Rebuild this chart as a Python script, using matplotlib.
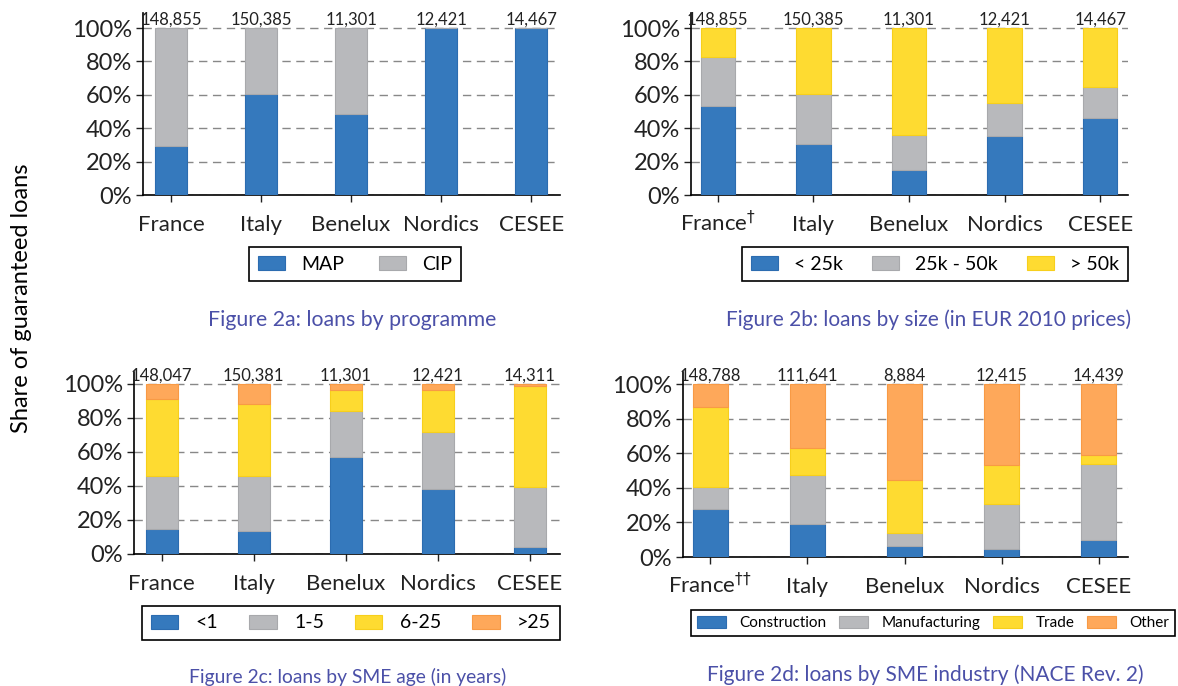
import matplotlib
matplotlib.use("Agg")
import matplotlib.pyplot as plt
import numpy as np

plt.rcParams['font.family'] = ['Lato', 'DejaVu Sans']

regions = ['France', 'Italy', 'Benelux', 'Nordics', 'CESEE']

# 2a: programme
prog_labels = ['MAP', 'CIP']
prog_map = [29.3, 60.4, 48.6, 100.0, 100.0]
prog_cip = [70.7, 39.6, 51.4, 0.0, 0.0]
prog_totals = ['148,855', '150,385', '11,301', '12,421', '14,467']

# 2b: size
size_labels = ['< 25k', '25k - 50k', '> 50k']
size_lt25 = [53.2, 30.3, 14.9, 35.3, 46.0]
size_25_50 = [29.3, 30.1, 20.8, 19.5, 18.5]
size_gt50 = [17.5, 39.6, 64.3, 45.2, 35.5]
size_totals = ['148,855', '150,385', '11,301', '12,421', '14,467']

# 2c: age
age_labels = ['<1', '1-5', '6-25', '>25']
age_lt1 = [14.9, 13.7, 57.1, 38.0, 4.3]
age_1_5 = [31.2, 32.4, 27.2, 34.0, 34.9]
age_6_25 = [44.9, 42.1, 12.0, 24.3, 59.4]
age_gt25 = [9.0, 11.8, 3.7, 3.7, 1.4]
age_totals = ['148,047', '150,381', '11,301', '12,421', '14,311']

# 2d: industry
ind_labels = ['Construction', 'Manufacturing', 'Trade', 'Other']
ind_constr = [27.5, 19.1, 6.2, 4.4, 10.1]
ind_manuf = [12.9, 28.3, 7.7, 26.2, 43.9]
ind_trade = [46.3, 15.8, 30.8, 22.6, 5.0]
ind_other = [13.3, 36.8, 55.3, 46.8, 41.0]
ind_totals = ['148,788', '111,641', '8,884', '12,415', '14,439']

blue, grey, yellow, orange = '#3579bd', '#b8b9bc', '#fedb31', '#fea85a'
edges = {blue: '#2c6cb0', grey: '#a8a9ac', yellow: '#f7cf1c', orange: '#f89a45'}
cap_color = '#4b50a8'

fig = plt.figure(figsize=(11.78, 6.86), dpi=100)


def panel(rect, series, colors, labels, totals, xlims, ytop, width,
          xticklabels, leg_pos, leg_size, leg_kw):
    ax = fig.add_axes(rect)
    x = np.arange(len(regions))
    bottom = np.zeros(len(regions))
    handles = []
    for vals, c, lab in zip(series, colors, labels):
        v = np.array(vals) / 100.0
        h = ax.bar(x, v, width, bottom=bottom, color=c, edgecolor=edges[c],
                   linewidth=0.8, label=lab, zorder=3)
        handles.append(h)
        bottom += v
    for xi, t in zip(x, totals):
        ax.text(xi, 1.0, t, ha='center', va='bottom', fontsize=12,
                color='#222222', zorder=4)
    ax.set_xlim(*xlims)
    ax.set_ylim(0, ytop)
    ax.set_yticks([0, 0.2, 0.4, 0.6, 0.8, 1.0])
    ax.set_yticklabels(['0%', '20%', '40%', '60%', '80%', '100%'], fontsize=17)
    ax.set_xticks(x)
    ax.set_xticklabels(xticklabels, fontsize=16)
    for lbl in ax.get_xticklabels():
        lbl.set_verticalalignment('baseline')
    ax.grid(axis='y', color='#888888', linestyle=(0, (6, 4)), linewidth=1.0,
            zorder=0)
    for s in ['top', 'right']:
        ax.spines[s].set_visible(False)
    ax.spines['left'].set_linewidth(1.2)
    ax.spines['bottom'].set_linewidth(1.2)
    ax.tick_params(axis='x', direction='out', length=5, width=1.0,
                   colors='#222222', pad=21)
    ax.tick_params(axis='y', direction='out', length=5, width=1.0,
                   colors='#222222', pad=3)
    leg = ax.legend(handles=handles, loc='center', bbox_to_anchor=leg_pos,
                    bbox_transform=fig.transFigure, ncol=len(labels),
                    fontsize=leg_size, frameon=True, fancybox=False,
                    edgecolor='black', framealpha=1, **leg_kw)
    leg.get_frame().set_linewidth(1.2)
    return ax


def fx(px):
    return px / 1178.0


def fy(px):
    return 1 - px / 686.0


panel([fx(143), fy(195), fx(560 - 143), (195 - 13) / 686.0],
      [prog_map, prog_cip], [blue, grey], prog_labels, prog_totals,
      (-0.31, 4.32), 1.09, 0.36, regions,
      (fx(355), fy(264)), 14,
      dict(handlelength=1.4, handleheight=0.75, handletextpad=0.8,
           columnspacing=1.8, borderpad=0.45))

panel([fx(691), fy(195), fx(1128 - 691), (195 - 13) / 686.0],
      [size_lt25, size_25_50, size_gt50], [blue, grey, yellow], size_labels,
      size_totals, (-0.28, 4.29), 1.09, 0.36,
      ['France$^{\\dagger}$'] + regions[1:],
      (fx(935), fy(264)), 14,
      dict(handlelength=1.4, handleheight=0.75, handletextpad=0.8,
           columnspacing=1.5, borderpad=0.45))

panel([fx(134), fy(554), fx(560 - 134), (554 - 372) / 686.0],
      [age_lt1, age_1_5, age_6_25, age_gt25], [blue, grey, yellow, orange],
      age_labels, age_totals, (-0.30, 4.33), 1.07, 0.35, regions,
      (fx(351), fy(623)), 14,
      dict(handlelength=1.4, handleheight=0.75, handletextpad=0.9,
           columnspacing=1.6, borderpad=0.45))

panel([fx(683), fy(557), fx(1128 - 683), (557 - 372) / 686.0],
      [ind_constr, ind_manuf, ind_trade, ind_other],
      [blue, grey, yellow, orange], ind_labels, ind_totals,
      (-0.28, 4.30), 1.07, 0.36,
      ['France$^{\u2020\u2020}$'] + regions[1:],
      (fx(933), fy(623)), 11,
      dict(handlelength=1.9, handleheight=0.9, handletextpad=0.9,
           columnspacing=0.8, borderpad=0.4))

fig.text(fx(22), fy(298), 'Share of guaranteed loans', rotation=90,
         ha='center', va='center', fontsize=17, color='black')

fig.text(fx(352), fy(320), 'Figure 2a: loans by programme', ha='center',
         va='center', fontsize=15.3, color=cap_color)
fig.text(fx(929), fy(320), 'Figure 2b: loans by size (in EUR 2010 prices)',
         ha='center', va='center', fontsize=15.0, color=cap_color)
fig.text(fx(348), fy(677), 'Figure 2c: loans by SME age (in years)',
         ha='center', va='center', fontsize=13.9, color=cap_color)
fig.text(fx(925), fy(675), 'Figure 2d: loans by SME industry (NACE Rev. 2)',
         ha='center', va='center', fontsize=15.0, color=cap_color)

fig.savefig('out.png', dpi=100)
